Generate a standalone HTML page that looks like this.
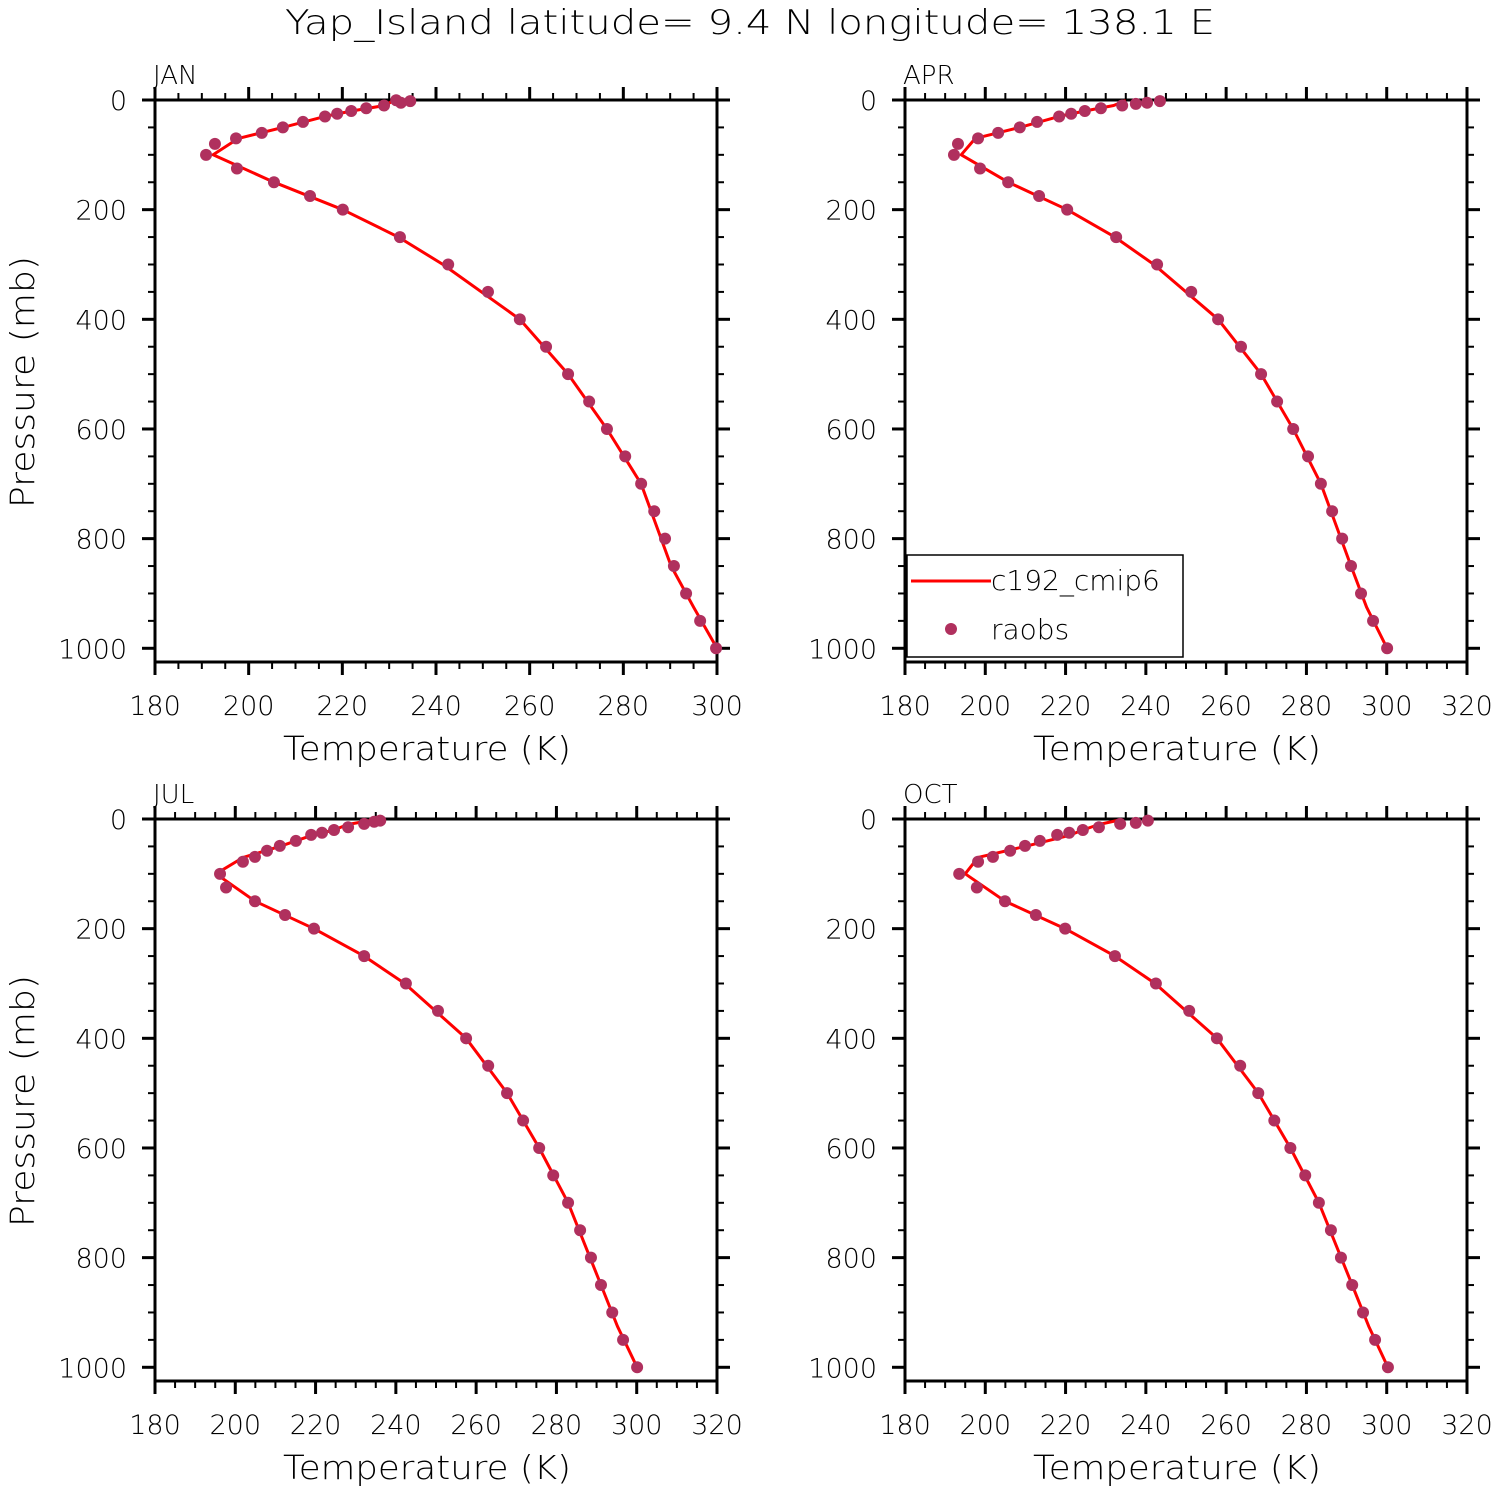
<!DOCTYPE html>
<html><head><meta charset="utf-8"><style>
html,body{margin:0;padding:0;background:#fff;}
svg{display:block;font-family:"DejaVu Sans","Liberation Sans",sans-serif;font-weight:200;}
</style></head><body>
<svg id="chart" width="1498" height="1492" viewBox="0 0 1498 1492" xmlns="http://www.w3.org/2000/svg">
<text x="750" y="34" font-size="34" text-anchor="middle" fill="#000" textLength="930" lengthAdjust="spacingAndGlyphs">Yap_Island   latitude= 9.4 N longitude= 138.1 E</text>
</svg>
<script>
const months=["JAN","APR","JUL","OCT"];
const xMaxes=[300,320,320,320];
const obsP_JAN=[2,5,0.5,10,15,20,25,30,40,50,60,70,80,100,125,150,175,200,250,300,350,400,450,500,550,600,650,700,750,800,850,900,950,1000];
const obsT_JAN=[234.5,232.5,231.5,228.9,225.1,221.9,218.9,216.3,211.6,207.3,202.8,197.3,192.8,190.9,197.5,205.4,213.1,220.1,232.3,242.6,251.1,257.9,263.5,268.2,272.7,276.5,280.4,283.8,286.6,288.9,290.8,293.4,296.4,299.8];
const obsP_APR=[2,5,7,10,15,20,25,30,40,50,60,70,80,100,125,150,175,200,250,300,350,400,450,500,550,600,650,700,750,800,850,900,950,1000];
const obsT_APR=[243.5,240.3,237.5,234.1,228.8,224.8,221.4,218.4,212.9,208.6,203.2,198.2,193.2,192.2,198.7,205.7,213.4,220.4,232.6,242.8,251.3,258,263.7,268.7,272.7,276.7,280.4,283.6,286.4,288.9,291.1,293.6,296.6,300.1];
const obsT_JUL=[236.1,234.6,232.1,228.1,224.6,221.6,218.9,215.1,211.1,207.9,204.9,201.9,196.2,197.7,204.9,212.4,219.6,232.1,242.5,250.5,257.5,263,267.7,271.7,275.7,279.2,282.9,285.9,288.6,291.1,293.9,296.6,300.1];
const obsP_JUL=[3,5,9,15,20,25,29,40,49,58,69,78,100,125,150,175,200,250,300,350,400,450,500,550,600,650,700,750,800,850,900,950,1000];
const obsP_OCT=[3,7,9,15,20,25,29,40,49,58,69,78,100,125,150,175,200,250,300,350,400,450,500,550,600,650,700,750,800,850,900,950,1000];
const obsT_OCT=[240.5,237.5,233.6,228.3,224.3,220.9,217.9,213.6,209.9,206.2,201.9,198.2,193.5,197.9,204.9,212.6,219.9,232.3,242.5,250.8,257.7,263.5,268,272,276,279.7,283.1,286.1,288.6,291.4,294.1,297.1,300.3];
const modP=[1,10,20,30,50,70,100,150,200,250,300,400,500,600,700,850,925,1000];
const modT_JAN=[231,229,222,216.3,207.3,197.8,192.4,205.4,220.1,232,241.5,257.9,268.2,276.5,283.8,290.2,295,300];
const modT_APR=[235,232,224.8,218.4,208.6,197.5,194,205.7,220.4,232.3,242,258,268.7,276.7,283.6,291.1,295,300.1];
const modT_JUL=[235,228,224.6,219,211.1,202,195.2,204.9,219.6,232.1,242.2,257.5,267.7,275.7,282.9,291.1,295.2,300.1];
const modT_OCT=[234,228.3,224.3,220.9,209.9,198.2,195,204.9,219.9,232.3,242.3,257.7,268,276,283.1,291.4,295.5,300.3];
const yTicks=[0,200,400,600,800,1000];

const obsP=[obsP_JAN,obsP_APR,obsP_JUL,obsP_OCT];
const obsT=[obsT_JAN,obsT_APR,obsT_JUL,obsT_OCT];
const modT=[modT_JAN,modT_APR,modT_JUL,modT_OCT];
const NS="http://www.w3.org/2000/svg";
const svg=document.getElementById('chart');
function mk(tag,attrs,parent){const e=document.createElementNS(NS,tag);for(const k in attrs)e.setAttribute(k,attrs[k]);(parent||svg).appendChild(e);return e;}
const origins=[[155,100],[905,100],[155,819],[905,819]];
const W=562,H=562, PMAX=1025;
for(let i=0;i<4;i++){
  const [x0,y0]=origins[i];
  const g=mk('g',{});
  
  
  const xMin=180,xMax=xMaxes[i];
  const sx=t=>x0+(t-xMin)/(xMax-xMin)*W;
  const sy=p=>y0+p/PMAX*H;
  const yb=sy(PMAX);
  const fr=mk('rect',{x:x0,y:y0,width:W,height:yb-y0,fill:'none',stroke:'#000','stroke-width':3},g);
  
  
  for(let t=xMin;t<=xMax;t+=5){
    const maj=(t%20===0);const L=maj?13:7;const x=sx(t);
    mk('line',{x1:x,x2:x,y1:y0,y2:y0-L,stroke:'#000','stroke-width':maj?3:2},g);
    mk('line',{x1:x,x2:x,y1:yb,y2:yb+L,stroke:'#000','stroke-width':maj?3:2},g);
    if(maj){const tx=mk('text',{x:x,y:yb+53,'font-size':27,'text-anchor':'middle'},g);tx.textContent=t;
      
      }
  }
  for(let p=0;p<=PMAX;p+=50){
    const maj=(p%200===0);const L=maj?13:7;const y=sy(p);
    mk('line',{x1:x0,x2:x0-L,y1:y,y2:y,stroke:'#000','stroke-width':maj?3:2},g);
    mk('line',{x1:x0+W,x2:x0+W+L,y1:y,y2:y,stroke:'#000','stroke-width':maj?3:2},g);
  }
  yTicks.forEach(p=>{const tx=mk('text',{x:x0-28,y:sy(p)+10,'font-size':27,'text-anchor':'end'},g);tx.textContent=p;
    
    });
  const lab=mk('text',{x:x0-2,y:y0-16,'font-size':26},g);lab.textContent=months[i];
  
  
  const xt=mk('text',{x:x0+W/2-9,y:y0+660,'font-size':33,'text-anchor':'middle',textLength:288,lengthAdjust:'spacingAndGlyphs'},g);xt.textContent='Temperature (K)';
  
  
  if(i%2===0){const yt=mk('text',{x:0,y:0,'font-size':33,'text-anchor':'middle',textLength:252,lengthAdjust:'spacingAndGlyphs',transform:`translate(34,${y0+282}) rotate(-90)`},g);yt.textContent='Pressure (mb)';
    
    }
  const d=modP.map((p,k)=>(k?'L':'M')+sx(modT[i][k]).toFixed(1)+','+sy(p).toFixed(1)).join(' ');
  const ln=mk('path',{d:d,fill:'none',stroke:'#ff0000','stroke-width':3,'stroke-linejoin':'round'},g);
  
  
  obsP[i].forEach((p,k)=>{const c=mk('circle',{cx:sx(obsT[i][k]),cy:sy(p),r:6,fill:'#b0305e'},g);
    
    });
}
const lg=mk('g',{});


mk('rect',{x:907,y:555,width:276,height:102,fill:'#fff',stroke:'#000','stroke-width':1.5},lg);
mk('line',{x1:911,x2:991,y1:581,y2:581,stroke:'#ff0000','stroke-width':3},lg);
const l1=mk('text',{x:991,y:590,'font-size':28},lg);l1.textContent='c192_cmip6';


mk('circle',{cx:951,cy:629,r:6,fill:'#b0305e'},lg);
const l2=mk('text',{x:991,y:639,'font-size':28},lg);l2.textContent='raobs';


</script>
</body></html>
